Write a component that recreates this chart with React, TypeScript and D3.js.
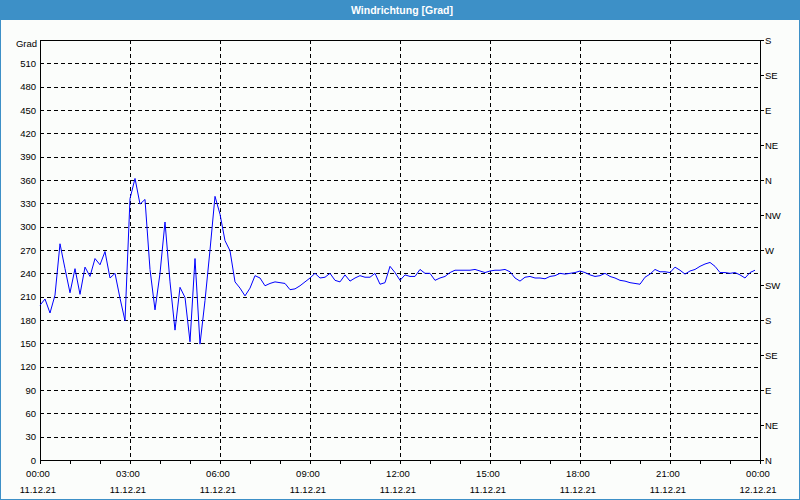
import React from "react";
import * as d3 from "d3";

// Wind direction, 10-minute values from 11.12.21 00:00 to 23:50
const START = new Date(2021, 11, 11, 0, 0);
const STEP_MIN = 10;
const windDir: number[] = [
  199, 207, 189, 212, 278, 246, 215, 246, 213, 248, 236, 259, 251, 268, 234, 240, 208, 179,
  336, 362, 329, 335, 245, 193, 240, 306, 229, 167, 222, 209, 152, 259, 149, 205, 270, 339,
  316, 282, 269, 229, 221, 211, 221, 237, 234, 224, 227, 229, 228, 227, 219, 220, 224, 229,
  234, 240, 234, 235, 240, 231, 229, 238, 230, 234, 237, 235, 235, 240, 226, 228, 249, 241,
  231, 238, 236, 236, 245, 240, 240, 231, 234, 236, 241, 244, 244, 244, 244, 245, 243, 241,
  243, 244, 244, 245, 242, 234, 230, 235, 236, 234, 234, 233, 236, 237, 240, 239, 240, 241,
  243, 241, 238, 236, 237, 240, 236, 234, 231, 230, 228, 227, 226, 235, 239, 245, 242, 242,
  241, 248, 244, 239, 243, 245, 249, 252, 254, 249, 241, 241, 240, 241, 238, 234, 241, 244,
];

const yTicks: number[] = [0, 30, 60, 90, 120, 150, 180, 210, 240, 270, 300, 330, 360, 390, 420, 450, 480, 510];
const compassValues: number[] = [0, 45, 90, 135, 180, 225, 270, 315, 360, 405, 450, 495, 540];
const compassLabels: string[] = ["N", "NE", "E", "SE", "S", "SW", "W", "NW", "N", "NE", "E", "SE", "S"];
const xTickHours: number[] = [0, 3, 6, 9, 12, 15, 18, 21, 24];
const xTimeLabels: string[] = ["00:00", "03:00", "06:00", "09:00", "12:00", "15:00", "18:00", "21:00", "00:00"];
const xDateLabels: string[] = ["11.12.21", "11.12.21", "11.12.21", "11.12.21", "11.12.21", "11.12.21", "11.12.21", "11.12.21", "12.12.21"];
const TITLE = "Windrichtung [Grad]";
const Y_UNIT = "Grad";

const W = 800;
const H = 500;
const M = { left: 40, right: 760, top: 40, bottom: 460 };
const FONT = "Tahoma, 'Liberation Sans', Arial, sans-serif";
const BLUE_BAR = "#3d90c7";

export default function App() {
  const end = new Date(START.getTime() + 24 * 3600 * 1000);
  const x = d3.scaleTime().domain([START, end]).range([M.left, M.right]);
  const y = d3.scaleLinear().domain([0, 540]).range([M.bottom, M.top]);

  const data = windDir.map((v, i) => ({ t: new Date(START.getTime() + i * STEP_MIN * 60000), v }));
  const line = d3
    .line<{ t: Date; v: number }>()
    .x((d) => x(d.t))
    .y((d) => y(d.v));

  const hourTicks = d3.range(0, 25).map((h) => new Date(START.getTime() + h * 3600000));
  const majorDates = xTickHours.map((h) => new Date(START.getTime() + h * 3600000));

  return (
    <svg
      width={W}
      height={H}
      style={{ position: "absolute", left: 0, top: 0, fontFamily: FONT }}
    >
      <rect x={0} y={0} width={W} height={H} fill="#fbfdfb" />
      <rect x={0} y={0} width={W} height={20} fill={BLUE_BAR} />
      <rect x={0.5} y={0.5} width={W - 1} height={H - 1} fill="none" stroke={BLUE_BAR} />
      <text x={W / 2 + 2} y={13.5} fill="#fff" fontWeight="bold" fontSize={10.5} textAnchor="middle">
        {TITLE}
      </text>

      {/* horizontal grid */}
      {yTicks
        .filter((v) => v > 0)
        .map((v) => (
          <line
            key={"hg" + v}
            x1={M.left}
            x2={M.right}
            y1={Math.round(y(v)) + 0.5}
            y2={Math.round(y(v)) + 0.5}
            stroke="#000"
            strokeDasharray="4,3"
            shapeRendering="crispEdges"
          />
        ))}
      {/* vertical grid */}
      {majorDates.slice(1, -1).map((d, i) => (
        <line
          key={"vg" + i}
          x1={Math.round(x(d)) + 0.5}
          x2={Math.round(x(d)) + 0.5}
          y1={M.top}
          y2={M.bottom}
          stroke="#000"
          strokeDasharray="4,3"
          shapeRendering="crispEdges"
        />
      ))}

      {/* frame */}
      <rect
        x={M.left + 0.5}
        y={M.top + 0.5}
        width={M.right - M.left}
        height={M.bottom - M.top}
        fill="none"
        stroke="#000"
        shapeRendering="crispEdges"
      />

      {/* data line */}
      <path d={line(data) || ""} fill="none" stroke="#0000ff" strokeWidth={1} />

      {/* left axis labels */}
      <text x={37} y={47} fontSize={9.5} textAnchor="end" fill="#000">
        {Y_UNIT}
      </text>
      {yTicks.map((v) => (
        <text key={"yl" + v} x={36} y={y(v) + 3.5} fontSize={9.5} textAnchor="end" fill="#000">
          {v}
        </text>
      ))}

      {/* right compass axis */}
      {compassValues.map((v, i) => (
        <g key={"c" + i}>
          <line
            x1={M.right}
            x2={M.right + 4}
            y1={Math.round(y(v)) + 0.5}
            y2={Math.round(y(v)) + 0.5}
            stroke="#000"
            shapeRendering="crispEdges"
          />
          <text x={M.right + 5} y={y(v) + 3.5} fontSize={9.5} fill="#000">
            {compassLabels[i]}
          </text>
        </g>
      ))}

      {/* bottom axis ticks */}
      {hourTicks.map((d, i) => (
        <line
          key={"xt" + i}
          x1={Math.round(x(d)) + 0.5}
          x2={Math.round(x(d)) + 0.5}
          y1={M.bottom}
          y2={M.bottom + 4}
          stroke="#000"
          shapeRendering="crispEdges"
        />
      ))}
      {majorDates.map((d, i) => (
        <g key={"xl" + i}>
          <text x={x(d) - 2} y={477} fontSize={9.5} textAnchor="middle" fill="#000">
            {xTimeLabels[i]}
          </text>
          <text x={x(d) - 2} y={493} fontSize={9.5} textAnchor="middle" fill="#000">
            {xDateLabels[i]}
          </text>
        </g>
      ))}
    </svg>
  );
}
